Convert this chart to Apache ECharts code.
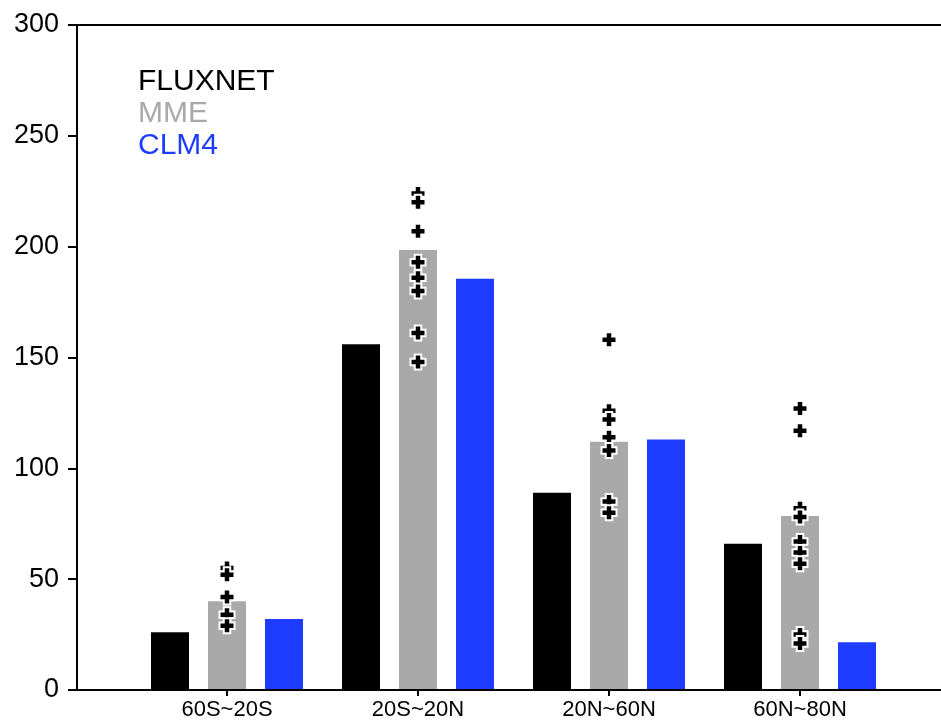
<!DOCTYPE html>
<html>
<head>
<meta charset="utf-8">
<script src="https://cdn.jsdelivr.net/npm/echarts@6/dist/echarts.min.js"></script>
<style>
  html, body { margin: 0; padding: 0; background: #fff; overflow: hidden; }
  #chart { width: 941px; height: 721px; }
</style>
</head>
<body>
<div id="chart"></div>
<script>
// Latitude bands
const regions = ['60S~20S', '20S~20N', '20N~60N', '60N~80N'];
// Band means
const fluxnet = [26, 156, 89, 66];
const mme = [40, 198.5, 112, 78.5];
const clm4 = [32, 185.5, 113, 21.5];
// Individual ensemble members per band
const mmeModels = [
  [55, 52, 42, 34, 29],
  [224, 220, 207, 193, 186, 180, 161, 148],
  [158, 126, 122, 114, 108, 85, 80],
  [127, 117, 82, 78, 67, 62, 57, 25, 21]
];
// Y axis range
const yMin = 0, yMax = 300, yStep = 50;

const colors = { FLUXNET: '#000000', MME: '#a9a9a9', CLM4: '#1e3cff' };
const font = "'Liberation Sans', Arial, sans-serif";

const memberPoints = [];
mmeModels.forEach((vals, i) => vals.forEach(v => memberPoints.push([i, v])));

// plus sign marker with thick arms
const plusPath = 'path://M3.4,0H8.6V3.4H12V8.6H8.6V12H3.4V8.6H0V3.4H3.4Z';

const frameLine = { show: true, lineStyle: { color: '#000', width: 2, cap: 'butt' } };

const chart = echarts.init(document.getElementById('chart'), null, { renderer: 'canvas' });
chart.setOption({
  backgroundColor: '#ffffff',
  animation: false,
  textStyle: { fontFamily: font },
  legend: {
    orient: 'vertical',
    left: 128,
    top: 61,
    itemWidth: 0,
    itemHeight: 0,
    itemGap: 1,
    icon: 'rect',
    selectedMode: false,
    textStyle: { fontSize: 30, lineHeight: 31, fontFamily: font },
    data: [
      { name: 'FLUXNET', textStyle: { color: colors.FLUXNET } },
      { name: 'MME', textStyle: { color: colors.MME } },
      { name: 'CLM4', textStyle: { color: colors.CLM4 } }
    ]
  },
  grid: [
    // frame: left axis, top and bottom rules running off the right edge
    { left: 77, right: -9, top: 25, bottom: 31, outerBoundsMode: 'none' },
    // bar area
    { left: 131.5, right: 45.5, top: 25, bottom: 31, outerBoundsMode: 'none' }
  ],
  xAxis: [
    {
      gridIndex: 0, type: 'value', min: 0, max: 1, position: 'bottom', z: 10,
      axisLine: frameLine,
      axisTick: { show: false }, axisLabel: { show: false }, splitLine: { show: false }
    },
    {
      gridIndex: 0, type: 'value', min: 0, max: 1, position: 'top', z: 10,
      axisLine: frameLine,
      axisTick: { show: false }, axisLabel: { show: false }, splitLine: { show: false }
    },
    {
      gridIndex: 1, type: 'category', data: regions,
      axisLine: { show: false },
      axisTick: { show: true, alignWithLabel: true, interval: 0, length: 6, lineStyle: { color: '#000', width: 2 } },
      axisLabel: { color: '#000', fontSize: 22, margin: 9, interval: 0, fontFamily: font },
      splitLine: { show: false }
    }
  ],
  yAxis: [
    {
      gridIndex: 0, type: 'value', min: yMin, max: yMax, interval: yStep,
      axisLine: frameLine,
      axisTick: { show: true, inside: false, length: 9, lineStyle: { color: '#000', width: 2 } },
      axisLabel: { color: '#000', fontSize: 27, margin: 18, fontFamily: font },
      splitLine: { show: false }
    },
    {
      gridIndex: 1, type: 'value', min: yMin, max: yMax, interval: yStep, show: false
    }
  ],
  series: [
    {
      name: 'FLUXNET', type: 'bar', xAxisIndex: 2, yAxisIndex: 1,
      data: fluxnet, barWidth: 38, barGap: '50%',
      itemStyle: { color: colors.FLUXNET }
    },
    {
      name: 'MME', type: 'bar', xAxisIndex: 2, yAxisIndex: 1,
      data: mme, barWidth: 38, barGap: '50%',
      itemStyle: { color: colors.MME }
    },
    {
      name: 'CLM4', type: 'bar', xAxisIndex: 2, yAxisIndex: 1,
      data: clm4, barWidth: 38, barGap: '50%',
      itemStyle: { color: colors.CLM4 }
    },
    {
      name: 'members', type: 'scatter', xAxisIndex: 2, yAxisIndex: 1,
      data: memberPoints, symbol: plusPath, symbolSize: 15, z: 5,
      itemStyle: { color: '#000', borderColor: '#fff', borderWidth: 2, opacity: 1 }
    }
  ]
});
</script>
</body>
</html>
